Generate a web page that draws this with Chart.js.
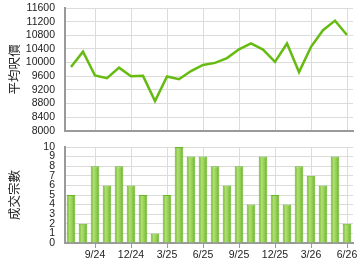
<!DOCTYPE html>
<html>
<head>
<meta charset="utf-8">
<script src="https://cdn.jsdelivr.net/npm/chart.js@4/dist/chart.umd.min.js"></script>
<style>
  body { margin: 0; background: #fff; }
  #wrap { position: relative; width: 360px; height: 270px; }
  .box { position: absolute; left: 0; width: 360px; }
</style>
</head>
<body>
<div id="wrap">
  <div class="box" style="top:135px;height:135px"><canvas id="dealChart" width="360" height="135"></canvas></div>
  <div class="box" style="top:0;height:136px"><canvas id="priceChart" width="360" height="136"></canvas></div>
</div>
<script>
// monthly categories, 7/24 .. 6/26
const months = ['7/24','8/24','9/24','10/24','11/24','12/24','1/25','2/25','3/25','4/25','5/25','6/25',
                '7/25','8/25','9/25','10/25','11/25','12/25','1/26','2/26','3/26','4/26','5/26','6/26'];
const shownLabels = ['9/24','12/24','3/25','6/25','9/25','12/25','3/26','6/26'];

// average price per sq ft
const avgPrice = [9870, 10320, 9620, 9540, 9850, 9600, 9610, 8870, 9590, 9510, 9750, 9930,
                  9990, 10130, 10390, 10560, 10380, 10020, 10560, 9720, 10460, 10950, 11230, 10810];

// number of deals
const dealCount = [5, 2, 8, 6, 8, 6, 5, 1, 5, 10, 9, 9, 8, 6, 8, 4, 9, 5, 4, 8, 7, 6, 9, 2];

// min, max, step
const priceTicks = [8000, 11600, 400];
const dealTicks = [0, 10, 1];

const gridColor = '#dcdcdc';
const axisColor = '#9a9a9a';
const fontFamily = 'Liberation Sans, Arial, sans-serif';

function labelled(i) {
  return shownLabels.indexOf(months[i]) !== -1;
}

function xScale(showTicks) {
  return {
    offset: true,
    afterFit: function(s) { s.height = showTicks ? 27 : 4; },
    grid: {
      offset: false,
      drawTicks: showTicks,
      tickLength: 5,
      color: function(c) { return labelled(c.index) ? gridColor : 'rgba(0,0,0,0)'; },
      tickColor: function(c) { return labelled(c.index) ? axisColor : 'rgba(0,0,0,0)'; }
    },
    border: { color: axisColor, width: 2 },
    ticks: {
      display: showTicks,
      autoSkip: false,
      maxRotation: 0,
      color: '#222',
      padding: 1,
      font: { family: fontFamily, size: 10.5 },
      callback: function(v, i) { return labelled(i) ? months[i] : ''; }
    }
  };
}

function yScale(range, title) {
  return {
    min: range[0],
    max: range[1],
    afterFit: function(s) { s.width = 65; },
    grid: { color: gridColor, drawTicks: true, tickLength: 10, tickColor: 'rgba(0,0,0,0)' },
    border: { color: axisColor, width: 2 },
    ticks: {
      stepSize: range[2],
      autoSkip: false,
      color: '#222',
      padding: 0,
      font: { family: fontFamily, size: 10.5, lineHeight: 1 },
      callback: function(v) { return String(v); }
    },
    title: {
      display: true,
      text: title,
      color: '#222',
      padding: { top: 7, bottom: 0 },
      font: { family: 'Noto Sans CJK TC, sans-serif', size: 12.5 }
    }
  };
}

new Chart(document.getElementById('priceChart'), {
  type: 'line',
  data: {
    labels: months,
    datasets: [{
      data: avgPrice,
      borderColor: '#66bb11',
      borderWidth: 2.5,
      pointRadius: 0,
      tension: 0,
      fill: false
    }]
  },
  options: {
    responsive: false,
    animation: false,
    layout: { padding: { top: 8, right: 7, left: 0, bottom: 0 } },
    plugins: { legend: { display: false }, tooltip: { enabled: false } },
    scales: {
      x: xScale(false),
      y: yScale(priceTicks, '平均呎價')
    }
  }
});

// horizontal light-to-dark shading on each bar
function barFill(c) {
  const chart = c.chart;
  if (!chart.chartArea || c.dataIndex === undefined) return '#8cc84a';
  const x = chart.scales.x.getPixelForValue(c.dataIndex);
  const w = 4.5;
  const g = chart.ctx.createLinearGradient(x - w, 0, x + w, 0);
  g.addColorStop(0, '#62ae1c');
  g.addColorStop(0.35, '#b2de78');
  g.addColorStop(0.7, '#8ccb48');
  g.addColorStop(1, '#5ca61a');
  return g;
}

new Chart(document.getElementById('dealChart'), {
  type: 'bar',
  data: {
    labels: months,
    datasets: [{
      data: dealCount,
      backgroundColor: barFill,
      borderColor: '#6ab52a',
      borderWidth: 1,
      categoryPercentage: 1,
      barPercentage: 0.72
    }]
  },
  options: {
    responsive: false,
    animation: false,
    layout: { padding: { top: 12, right: 7, left: 0, bottom: 0 } },
    plugins: { legend: { display: false }, tooltip: { enabled: false } },
    scales: {
      x: xScale(true),
      y: yScale(dealTicks, '成交宗數')
    }
  }
});
</script>
</body>
</html>
